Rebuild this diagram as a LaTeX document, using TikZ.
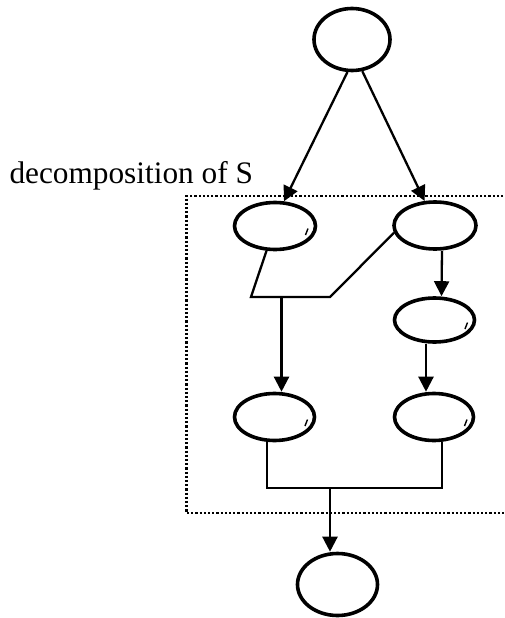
\documentclass[tikz,border=0pt]{standalone}
\usepackage{fontspec}
\setmainfont{Liberation Serif}
\usetikzlibrary{shapes.geometric,arrows.meta}
\tikzset{
  proc/.style={ellipse,draw,line width=3.6pt,inner sep=0pt,minimum width=80pt,minimum height=47pt},
  endpt/.style={proc,minimum width=76pt,minimum height=62pt},
  conn/.style={line width=2.3pt},
  arr/.style={conn,-{Triangle[length=15pt,width=15pt]}},
  tick/.style={line width=1.4pt},
  region/.style={line width=2.2pt,dash pattern=on 2.2pt off 2pt}
}
\begin{document}
\begin{tikzpicture}[x=1pt,y=-1pt]
\useasboundingbox (0,0) rectangle (504,618);
\clip (0,0) rectangle (504,618);

% region of the decomposition
\draw[region] (520,196) -- (186.5,196) -- (186.5,513) -- (520,513);
\node[anchor=base west,inner sep=0pt,font=\fontsize{31.3}{37}\selectfont] (lbl) at (9.3,183) {decomposition of S};

% activities
\node[endpt] (top) at (352,39.5) {};
\node[proc,minimum width=81pt] (L1) at (275,226) {};
\node[proc,minimum width=82pt] (R1) at (435,225.5) {};
\node[proc,minimum height=44pt] (R2) at (434.5,320) {};
\node[proc] (L3) at (274.5,417) {};
\node[proc,minimum width=79pt] (R3) at (434,417) {};
\node[endpt,minimum width=80pt] (bot) at (337.5,584.5) {};

% small marks inside the ellipses
\foreach \n in {L1,R2,L3,R3}
  \draw[tick] ([shift={(30.5,9)}]\n.center) -- ++(2.5,-6.5);

% split at the top
\draw[arr] (top.262) -- (L1.70);
\draw[arr] (top.288) -- (R1.113);

% join of L1 and R1
\coordinate (jl) at (251,297);
\coordinate (jr) at (330,297);
\coordinate (jm) at (281.5,297);
\draw[conn] (L1.251) -- (jl) -- (jr) -- (R1.190);
\draw[arr] (jm) -- (jm |- L3.north);

% right branch
\draw[arr] ([xshift=7pt]R1.south) -- ([xshift=7pt]R2.north);
\draw[arr] ([xshift=-8.5pt]R2.south) -- ([xshift=-8pt]R3.north);

% final join
\coordinate (kl) at (267,488);
\coordinate (kr) at (442,488);
\coordinate (km) at (330,488);
\draw[conn] ([xshift=-7.5pt]L3.south) -- (kl) -- (kr) -- ([xshift=8pt]R3.south);
\draw[arr] (km) -- (km |- bot.north);
\end{tikzpicture}
\end{document}
